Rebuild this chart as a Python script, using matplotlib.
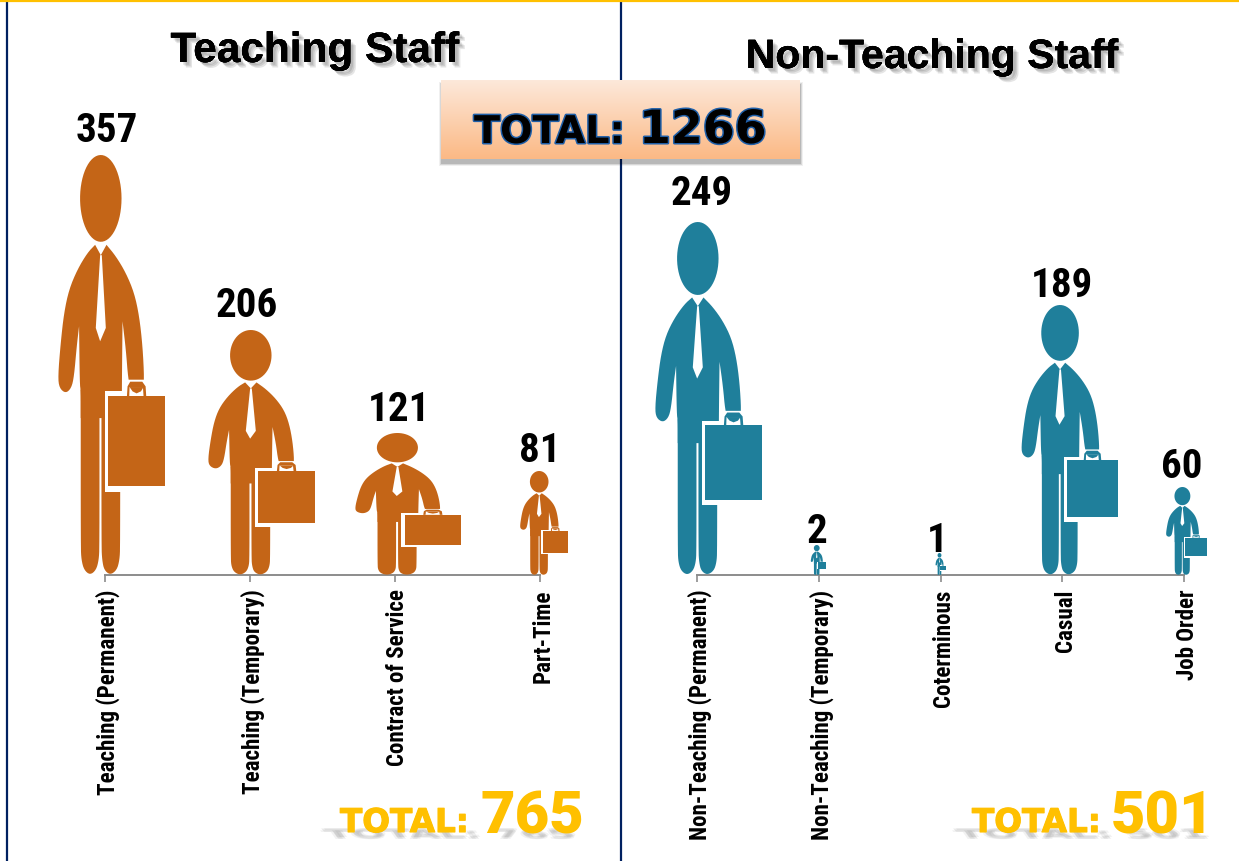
"""Teaching and non-teaching staff pictogram chart."""

import matplotlib

matplotlib.use("Agg")
import matplotlib.patheffects as pe
import matplotlib.pyplot as plt
import numpy as np
from matplotlib.font_manager import FontProperties
from matplotlib.patches import PathPatch, Polygon, Rectangle
from matplotlib.textpath import TextPath
from matplotlib.transforms import Affine2D, ScaledTranslation

W, H = 1239, 861

teaching_labels = ["Teaching (Permanent)", "Teaching (Temporary)", "Contract of Service", "Part-Time"]
teaching_values = [357, 206, 121, 81]
other_labels = ["Non-Teaching (Permanent)", "Non-Teaching (Temporary)", "Coterminous", "Casual", "Job Order"]
other_values = [249, 2, 1, 189, 60]
teaching_total = 765
other_total = 501
grand_total = 1266

# the picture's y scale is not quite linear, small values get a bigger man
teaching_knots = ([0, 81, 121, 206, 357], [0, 104, 142, 245, 420])
other_knots = ([0, 1, 2, 60, 189, 249], [0, 22, 30, 88, 270, 353])

# man width and left edge relative to the tick, pixels
teaching_width = [107, 107, 106, 48]
teaching_left = [-47, -42, -40, -20]
teaching_label_dx = [2, -3, 4, 0]
teaching_label_dy = [13, 13, 12, 9]
other_width = [107, 15, 10, 97, 41]
other_left = [-42, -8, -5, -41, -18]
other_label_dx = [5, -2, -3, 0, -2]
other_label_dy = [17, 2, 1, 8, 9]

ORANGE = "#C46517"
TEAL = "#1F7F9B"
NAVY = "#002060"
GOLD = "#FFC000"
NARROW = "Roboto Condensed"
SANS = ["Liberation Sans", "DejaVu Sans"]


def unit(points):
    pts = np.array(points, dtype=float)
    pts[:, 0] = (pts[:, 0] - 52) / 320
    pts[:, 1] = (1455 - pts[:, 1]) / 1258
    return pts


def smooth(points, passes=2):
    pts = np.array(points, dtype=float)
    for _ in range(passes):
        nxt = np.roll(pts, -1, axis=0)
        pts = np.column_stack((0.75 * pts + 0.25 * nxt, 0.25 * pts + 0.75 * nxt)).reshape(-1, 2)
    return pts


angles = np.linspace(0, 2 * np.pi, 60)
HEAD = np.column_stack((180 + 62 * np.cos(angles), 327 + 130 * np.sin(angles)))
TORSO = [(163, 466), (163, 466), (140, 490), (110, 540), (85, 600), (70, 670), (60, 760), (52, 860),
         (56, 895), (75, 911), (92, 895), (100, 860), (108, 770), (115, 710), (115, 710), (117, 880),
         (120, 905), (120, 985), (120, 985), (243, 985), (243, 985), (243, 890), (245, 695), (245, 695),
         (255, 780), (262, 870), (270, 895), (287, 910), (305, 895), (310, 870), (305, 770), (295, 680),
         (280, 610), (255, 550), (225, 500), (197, 466), (197, 466), (180, 497), (180, 497)]
LEG_L = [(120, 900), (120, 900), (120, 1370), (122, 1410), (130, 1440), (148, 1455), (166, 1440), (174, 1410),
         (176, 1370), (176, 980), (176, 980)]
LEG_R = [(182, 980), (182, 980), (182, 1370), (184, 1410), (190, 1440), (208, 1455), (228, 1440), (236, 1410),
         (238, 1370), (238, 900), (238, 900)]
TIE = [(178, 497), (165, 715), (178, 755), (195, 715), (183, 497)]
CASE_EDGE = [(192, 905), (372, 905), (372, 1207), (192, 1207)]
CASE = [(202, 920), (372, 920), (372, 1187), (202, 1187)]
HANDLE_EDGE = [(250, 925), (252, 885), (262, 870), (310, 870), (322, 885), (324, 925)]
HANDLE = [(258, 922), (260, 890), (268, 876), (304, 876), (314, 890), (316, 922)]
HANDLE_IN = [(265, 922), (266, 892), (306, 892), (308, 922)]
HAND = [(266, 892), (275, 905), (287, 911), (300, 905), (308, 892)]


def draw_man(ax, left, bottom, width, height, color):
    shapes = [
        (HEAD, color), (smooth(TORSO), color), (smooth(LEG_L), color), (smooth(LEG_R), color),
        (TIE, "white"), (CASE_EDGE, "white"), (HANDLE_EDGE, "white"), (HANDLE, color),
        (HANDLE_IN, "white"), (HAND, color), (CASE, color),
    ]
    tr = Affine2D().scale(width, height).translate(left, bottom)
    for pts, col in shapes:
        ax.add_patch(Polygon(unit(pts), closed=True, facecolor=col, edgecolor="none",
                             transform=tr, clip_on=False, zorder=3))


def panel(x0, x1, top_px, knots, labels, values, widths, lefts, label_dx, label_dy, color):
    height = 575 - top_px
    ax = fig.add_axes([x0 / W, (H - 575) / H, (x1 - x0) / W, height / H])
    ax.patch.set_alpha(0)
    ax.set_yscale("function", functions=(
        lambda v: np.interp(v, knots[0], knots[1]),
        lambda p: np.interp(p, knots[1], knots[0]),
    ))
    ax.set_ylim(0, max(values))
    ax.set_xlim(0, len(values) - 1)
    ax.set_yticks([])
    ax.minorticks_off()
    ax.yaxis.set_visible(False)
    ax.set_xticks(range(len(values)))
    ax.set_xticklabels(labels, rotation=90, ha="center", va="top", family=NARROW,
                       fontweight=700, fontsize=16.6, color="black")
    ax.tick_params(axis="x", length=5, width=1.2, color="#8C8C8C", pad=5.5)
    shift = ScaledTranslation(3 / 100, 0, fig.dpi_scale_trans)
    for tick_label in ax.get_xticklabels():
        tick_label.set_transform(tick_label.get_transform() + shift)
    for name, spine in ax.spines.items():
        spine.set_visible(name == "bottom")
    ax.spines["bottom"].set_color("#8C8C8C")
    ax.spines["bottom"].set_linewidth(1.4)
    for i, value in enumerate(values):
        x_px, y_px = ax.transData.transform((i, 0))
        _, top = ax.transData.transform((i, value))
        draw_man(ax, x_px + lefts[i], y_px, widths[i], top - y_px, color)
        ax.annotate(str(value), xy=(i, value), xytext=(label_dx[i] * 0.72, label_dy[i] * 0.72),
                    textcoords="offset points", ha="center", va="baseline", family=NARROW,
                    fontweight=700, fontsize=29.5, color="black", annotation_clip=False)
    return ax


fig = plt.figure(figsize=(W / 100, H / 100), dpi=100, facecolor="white")

panel(105, 540, 155, teaching_knots, teaching_labels, teaching_values,
      teaching_width, teaching_left, teaching_label_dx, teaching_label_dy, ORANGE)
panel(697, 1184, 222, other_knots, other_labels, other_values,
      other_width, other_left, other_label_dx, other_label_dy, TEAL)

# frame, titles and totals drawn in picture pixels
over = fig.add_axes([0, 0, 1, 1], zorder=5)
over.set_xlim(0, W)
over.set_ylim(H, 0)
over.axis("off")
over.patch.set_alpha(0)

over.plot([7, 7], [0, H], color=NAVY, lw=1.6)
over.plot([620.5, 620.5], [0, H], color=NAVY, lw=1.6)
over.plot([0, W], [0.5, 0.5], color=GOLD, lw=1.6)

title_fx = [pe.withSimplePatchShadow(offset=(o, -o), shadow_rgbFace="black", alpha=0.1) for o in (4, 3, 2)] + [pe.Normal()]
over.text(315, 62, "Teaching Staff", ha="center", va="baseline", family=SANS, fontweight="bold",
          fontsize=30.5, color="black", path_effects=title_fx)
over.text(932, 68, "Non-Teaching Staff", ha="center", va="baseline", family=SANS, fontweight="bold",
          fontsize=29.5, color="black", path_effects=title_fx)

# grand total box
for grow, alpha in ((2.5, 0.06), (1.5, 0.1), (0.5, 0.14)):
    over.add_patch(Rectangle((441 - grow, 84 - grow), 359 + 2 * grow, 79 + 2 * grow,
                             facecolor="black", edgecolor="none", alpha=alpha, zorder=6))
top_rgb = np.array([253, 233, 219])
bottom_rgb = np.array([251, 185, 133])
gradient = np.linspace(0, 1, 80)[:, None, None] * (bottom_rgb - top_rgb) + top_rgb
over.imshow(gradient.astype(np.uint8), extent=(441, 800, 159, 80), aspect="auto", zorder=7)
over.set_xlim(0, W)
over.set_ylim(H, 0)
box_fx = [pe.withStroke(linewidth=2.2, foreground="#1F5FA8")]
over.text(474, 143, "TOTAL:", ha="left", va="baseline", family="DejaVu Sans", fontweight="bold",
          fontsize=27.5, color="black", path_effects=box_fx, zorder=8)
over.text(639, 143, str(grand_total), ha="left", va="baseline", family="DejaVu Sans", fontweight="bold",
          fontsize=33, color="black", path_effects=box_fx, zorder=8)


def gold_total(x_label, x_value, value):
    # flattened blurred shadow under the text
    prop = FontProperties(family="DejaVu Sans", weight="bold")
    shadow = TextPath((0, 0), f"TOTAL: {value}", size=40, prop=prop)
    sx = 247 / shadow.get_extents().width
    for dx, dy in ((0, 0), (2, 1), (-2, -1), (1, -1), (-1, 1)):
        tr = Affine2D().scale(sx, 0.3).skew_deg(-35, 0).translate(x_label - 12 + dx, H - 838 + dy)
        over.add_patch(PathPatch(shadow, transform=tr, facecolor="#808080", edgecolor="none", alpha=0.1, zorder=3))
    over.text(x_label, 832, "TOTAL:", ha="left", va="baseline", family="DejaVu Sans", fontweight="bold",
              fontsize=23.5, color=GOLD, zorder=4,
              path_effects=[pe.withStroke(linewidth=0.8, foreground=GOLD)])
    over.text(x_value, 833, str(value), ha="left", va="baseline", family="Roboto", fontweight=900,
              fontsize=43, color=GOLD, zorder=4)


gold_total(340, 480, teaching_total)
gold_total(972, 1111, other_total)

fig.savefig("out.png", dpi=100, facecolor="white")
plt.close(fig)
